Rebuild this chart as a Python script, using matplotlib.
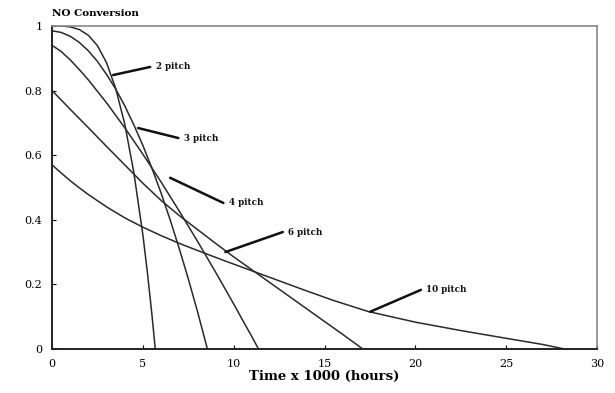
import matplotlib
matplotlib.use("Agg")
import matplotlib.pyplot as plt

# curve readings (time x 1000 h, NO conversion)
t_2 = [0, 0.5, 1, 1.5, 2, 2.5, 3, 3.5, 4, 4.5, 5, 5.25, 5.5, 5.68]
y_2 = [1.0, 1.0, 0.997, 0.989, 0.971, 0.939, 0.886, 0.807, 0.697, 0.547,
       0.353, 0.236, 0.105, 0.0]

t_3 = [0, 0.5, 1, 1.5, 2, 2.5, 3, 3.5, 4, 4.5, 5, 5.5, 6, 6.5, 7, 7.5, 8, 8.55]
y_3 = [0.985, 0.98, 0.968, 0.949, 0.923, 0.89, 0.85, 0.805, 0.753, 0.694,
       0.63, 0.559, 0.483, 0.40, 0.311, 0.217, 0.117, 0.0]

t_4 = [0, 0.5, 1, 1.5, 2, 3, 4, 5, 6, 7, 8, 9, 10, 10.5, 11, 11.36]
y_4 = [0.94, 0.921, 0.895, 0.865, 0.833, 0.762, 0.685, 0.603, 0.517, 0.427,
       0.334, 0.238, 0.139, 0.088, 0.038, 0.0]

t_6 = [0, 1, 2, 3, 4, 5, 6, 7, 8, 9, 10, 11, 12, 13, 14, 15, 16, 17.1]
y_6 = [0.80, 0.742, 0.685, 0.627, 0.57, 0.513, 0.46, 0.413, 0.37, 0.327,
       0.285, 0.245, 0.205, 0.165, 0.125, 0.085, 0.045, 0.0]

t_10 = [0, 0.5, 1, 1.5, 2, 3, 4, 5, 6, 7, 8, 9.5, 11, 12.5, 14, 15.5, 17.4,
        20, 22.5, 25, 27, 28.2]
y_10 = [0.57, 0.545, 0.521, 0.499, 0.478, 0.44, 0.406, 0.377, 0.351, 0.327,
        0.305, 0.273, 0.242, 0.211, 0.18, 0.15, 0.116, 0.083, 0.057, 0.033,
        0.014, 0.0]

series = [(t_2, y_2), (t_3, y_3), (t_4, y_4), (t_6, y_6), (t_10, y_10)]

labels = ["2 pitch", "3 pitch", "4 pitch", "6 pitch", "10 pitch"]
label_tip = [(3.36, 0.848), (4.74, 0.684), (6.5, 0.53), (9.54, 0.30), (17.5, 0.115)]
label_tail = [(5.4, 0.873), (6.95, 0.653), (9.43, 0.452), (12.7, 0.362), (20.3, 0.183)]

x_ticks = [0, 5, 10, 15, 20, 25, 30]
y_ticks = [0, 0.2, 0.4, 0.6, 0.8, 1.0]
y_tick_labels = ["0", "0.2", "0.4", "0.6", "0.8", "1"]

serif = "DejaVu Serif"

fig = plt.figure(figsize=(6.15, 3.93), dpi=100)
ax = fig.add_axes([0.0846, 0.112, 0.8864, 0.822])

for t, y in series:
    ax.plot(t, y, color="#2a2a2a", lw=1.1, solid_joinstyle="round")

for name, tip, tail in zip(labels, label_tip, label_tail):
    ax.annotate("", xy=tip, xytext=tail,
                arrowprops=dict(arrowstyle="-", lw=1.8, color="#111111",
                                shrinkA=0, shrinkB=0))
    ax.text(tail[0] + 0.3, tail[1], name, fontsize=6.3, fontweight="bold",
            family=serif, ha="left", va="center", color="#111111")

ax.set_xlim(0, 30)
ax.set_ylim(0, 1)
ax.set_xticks(x_ticks)
ax.set_yticks(y_ticks)
ax.set_yticklabels(y_tick_labels)
ax.tick_params(direction="in", length=3, width=0.8, labelsize=8,
               top=False, right=False, pad=7)
for lab in ax.get_xticklabels() + ax.get_yticklabels():
    lab.set_family(serif)

for side in ["left", "bottom"]:
    ax.spines[side].set_linewidth(1.4)
    ax.spines[side].set_color("#222222")
for side in ["top", "right"]:
    ax.spines[side].set_linewidth(1.2)
    ax.spines[side].set_color("#888888")

ax.set_xlabel("Time x 1000 (hours)", fontsize=9.5, fontweight="bold",
              family=serif, labelpad=1)
fig.text(0.0846, 0.953, "NO Conversion", fontsize=7.5, fontweight="bold",
         family=serif, ha="left", va="bottom")

fig.savefig("out.png", dpi=100, facecolor="white")
